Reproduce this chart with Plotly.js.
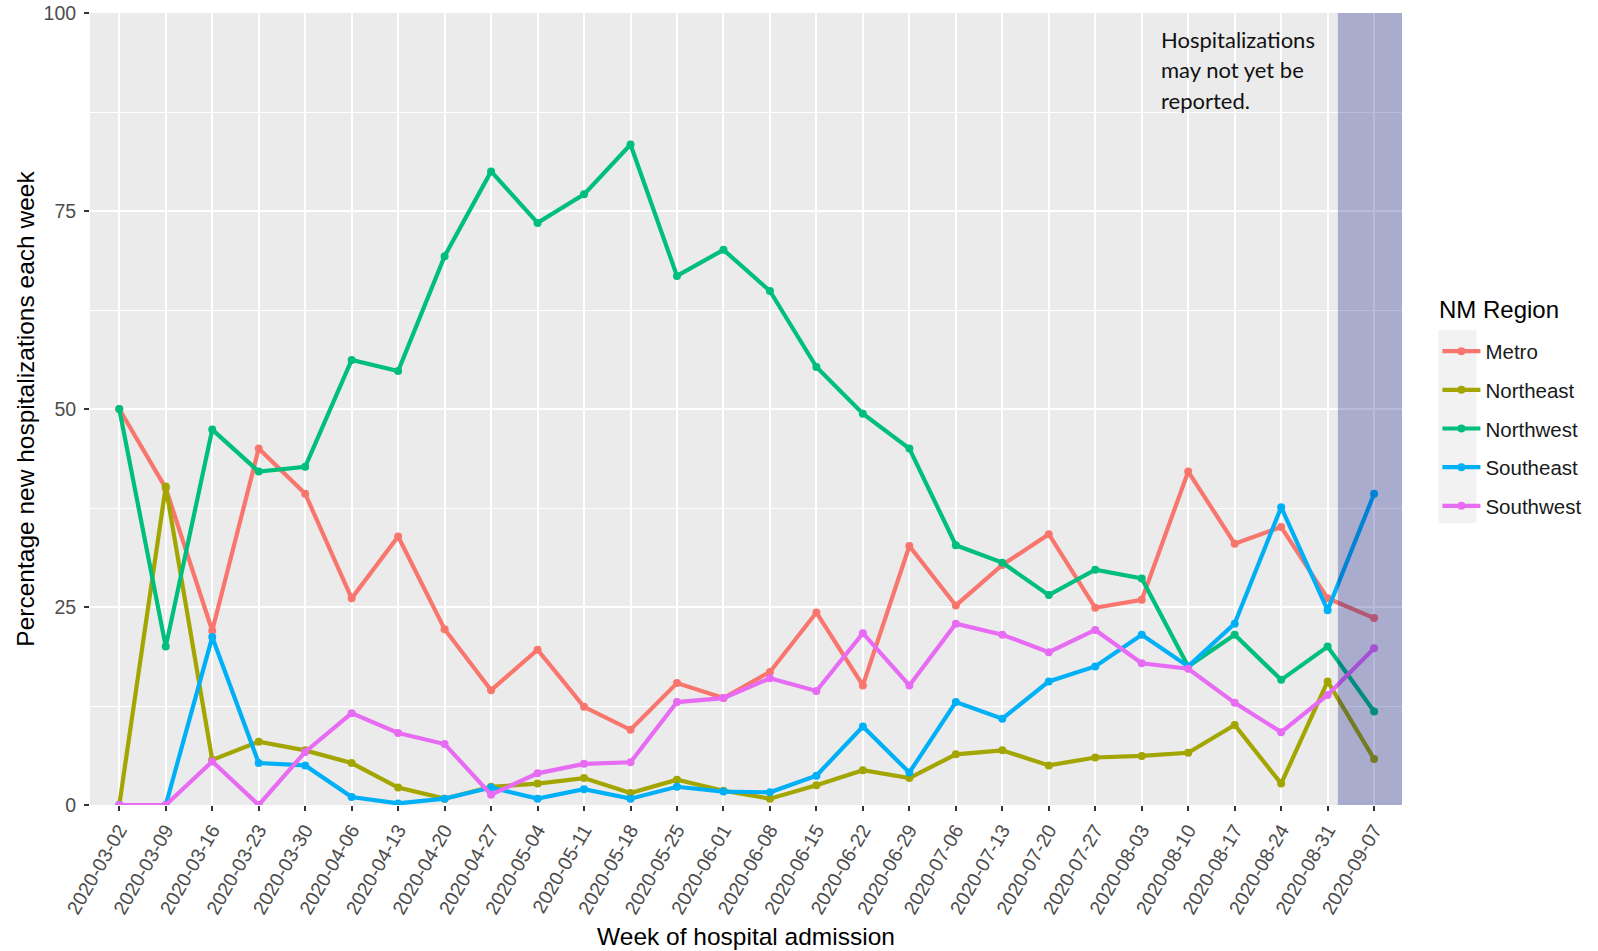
<!DOCTYPE html>
<html>
<head>
<meta charset="utf-8">
<script src="https://cdn.plot.ly/plotly-3.0.1.min.js"></script>
<style>
html,body{margin:0;padding:0;background:#fff;}
#chart{width:1598px;height:951px;}
</style>
</head>
<body>
<div id="chart"></div>
<script>
const weeks = ["2020-03-02","2020-03-09","2020-03-16","2020-03-23","2020-03-30","2020-04-06","2020-04-13","2020-04-20","2020-04-27","2020-05-04","2020-05-11","2020-05-18","2020-05-25","2020-06-01","2020-06-08","2020-06-15","2020-06-22","2020-06-29","2020-07-06","2020-07-13","2020-07-20","2020-07-27","2020-08-03","2020-08-10","2020-08-17","2020-08-24","2020-08-31","2020-09-07"];
const regions = ["Metro","Northeast","Northwest","Southeast","Southwest"];
const metro = [50,40,22,45,39.3,26.1,33.9,22.2,14.5,19.6,12.4,9.5,15.4,13.5,16.8,24.3,15.1,32.7,25.2,30.3,34.2,24.9,25.9,42.1,33.0,35.1,26.1,23.6];
const northeast = [0,40.2,5.7,8.0,6.9,5.3,2.2,0.8,2.3,2.7,3.4,1.5,3.2,1.8,0.8,2.5,4.4,3.4,6.4,6.9,5.0,6.0,6.2,6.6,10.1,2.7,15.6,5.8];
const northwest = [50,20.0,47.4,42.1,42.7,56.2,54.8,69.3,80.0,73.5,77.1,83.4,66.8,70.1,64.9,55.3,49.4,45.0,32.8,30.6,26.5,29.7,28.6,17.5,21.5,15.8,20.0,11.8];
const southeast = [0,0,21.2,5.3,5.0,1.0,0.2,0.8,2.2,0.8,2.0,0.8,2.3,1.7,1.6,3.7,9.9,4.1,13.0,10.9,15.6,17.5,21.5,17.5,22.9,37.6,24.6,39.3];
const southwest = [0,0,5.5,0,6.7,11.6,9.1,7.7,1.3,4.0,5.2,5.4,13.0,13.5,16.0,14.4,21.7,15.1,22.9,21.5,19.3,22.1,17.9,17.2,12.9,9.2,13.9,19.8];
const yTicks = [0,25,50,75,100];
const legendTitle = "NM Region";
const noteLines = ["Hospitalizations","may not yet be","reported."];

const seriesValues = [metro, northeast, northwest, southeast, southwest];
const colors = ["#F8766D","#A3A500","#00BF7D","#00B0F6","#E76BF3"];

const traces = regions.map((name, i) => ({
  type: "scatter",
  mode: "lines+markers",
  name: name,
  legendgroup: name,
  x: weeks,
  y: seriesValues[i],
  line: {color: colors[i], width: 4.2},
  marker: {color: colors[i], size: 8},
  hoverinfo: "x+y+name"
}));

const tickFont = {family: "Liberation Sans, Arial, sans-serif", size: 19.5, color: "#4d4d4d"};
const titleFont = {family: "Liberation Sans, Arial, sans-serif", size: 24.5, color: "#000"};

const annotations = noteLines.map((t, i) => ({
  xref: "paper", yref: "paper",
  x: 0.8145, y: 0.9668 - i * 0.0385,
  xanchor: "left", yanchor: "middle",
  text: t, showarrow: false,
  font: {family: "Lato, Open Sans, sans-serif", size: 22, color: "#111"}
}));
annotations.push({
  xref: "paper", yref: "paper",
  x: 1.0267, y: 0.6259,
  xanchor: "left", yanchor: "middle",
  text: legendTitle, showarrow: false,
  font: {family: "Liberation Sans, Arial, sans-serif", size: 24, color: "#000"}
});

const layout = {
  width: 1598, height: 951,
  margin: {l: 90, r: 196, t: 13, b: 146, autoexpand: false},
  paper_bgcolor: "#ffffff",
  plot_bgcolor: "#ebebeb",
  showlegend: true,
  xaxis: {
    type: "category",
    range: [-0.63, 27.6],
    tickangle: -60,
    tickfont: tickFont,
    ticks: "outside", ticklen: 5, tickwidth: 1.5, tickcolor: "#333",
    showgrid: true, gridcolor: "#ffffff", gridwidth: 2,
    zeroline: false, showline: false,
    automargin: false,
    title: {text: "Week of hospital admission", font: titleFont, standoff: 10}
  },
  yaxis: {
    range: [0, 100],
    tickvals: yTicks,
    ticktext: yTicks.map(String),
    tickfont: tickFont,
    ticklabelstandoff: 4,
    ticks: "outside", ticklen: 5, tickwidth: 1.5, tickcolor: "#333",
    showgrid: true, gridcolor: "#ffffff", gridwidth: 2,
    minor: {dtick: 12.5, tick0: 0, showgrid: true, gridcolor: "#ffffff", gridwidth: 1, ticks: ""},
    zeroline: false, showline: false,
    automargin: false,
    title: {text: "Percentage new hospitalizations each week", font: titleFont, standoff: 1}
  },
  legend: {
    x: 1.027, xanchor: "left",
    y: 0.598, yanchor: "top",
    bgcolor: "rgba(0,0,0,0)",
    font: {family: "Liberation Sans, Arial, sans-serif", size: 20.5, color: "#1a1a1a"},
    tracegroupgap: 9,
    itemwidth: 38
  },
  shapes: [
    {
      type: "rect", xref: "x", yref: "paper",
      x0: 26.22, x1: 27.6, y0: 0, y1: 1,
      fillcolor: "rgba(0,10,128,0.28)", line: {width: 0}, layer: "above"
    },
    {
      type: "rect", xref: "paper", yref: "paper",
      x0: 1.0278, x1: 1.0567, y0: 0.3558, y1: 0.5994,
      fillcolor: "#f2f2f2", line: {width: 0}, layer: "below"
    }
  ],
  annotations: annotations
};

Plotly.newPlot("chart", traces, layout, {displayModeBar: false, responsive: false});
</script>
</body>
</html>
